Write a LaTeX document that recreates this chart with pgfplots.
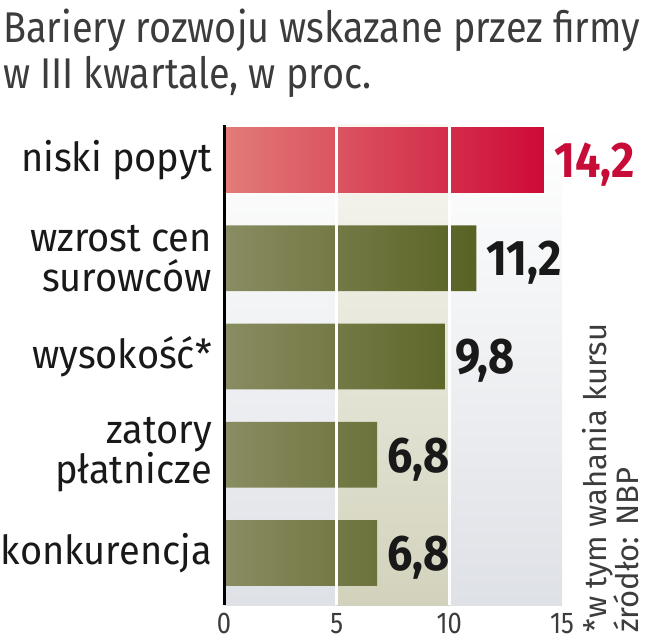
\documentclass[border=0pt]{standalone}
\usepackage{pgfplots}
\pgfplotsset{compat=1.18}
\usepackage{fontspec}
\setmainfont{Fira Sans}
\newfontfamily\titlefont{Fira Sans}[FakeStretch=0.88]
\newfontfamily\tickfont{Fira Sans}[FakeStretch=0.85]
\newfontfamily\numfont{Fira Sans}[FakeStretch=0.9]
\newfontfamily\labfont{Fira Sans}[FakeStretch=0.95]
\definecolor{titlegray}{RGB}{60,60,60}
\definecolor{redL}{RGB}{226,124,120}
\definecolor{redR}{RGB}{206,10,55}
\definecolor{grnL}{RGB}{138,140,98}
\definecolor{grnR}{RGB}{88,98,34}
\definecolor{valred}{RGB}{200,12,56}
\definecolor{bgB}{RGB}{222,225,230}
\definecolor{bandT}{RGB}{248,248,243}
\definecolor{bandB}{RGB}{210,210,188}
\begin{document}
\begin{tikzpicture}[x=1pt,y=1pt]
\useasboundingbox (0,0) rectangle (648,-640);
\node[anchor=base west, inner sep=0pt, text=titlegray, font=\titlefont\fontsize{43}{46}\selectfont] at (3,-42) {Bariery rozwoju wskazane przez firmy};
\node[anchor=base west, inner sep=0pt, text=titlegray, font=\titlefont\fontsize{43}{46}\selectfont] at (3,-88) {w III kwartale, w proc.};
\begin{axis}[
  at={(224pt,-605pt)}, anchor=south west, scale only axis,
  width=338pt, height=480pt,
  xmin=0, xmax=15, ymin=-0.53, ymax=4.356,
  xbar, bar width=0.67, bar shift=0pt,
  clip=false, axis on top,
  axis lines=left, separate axis lines,
  x axis line style={draw=none},
  y axis line style={-, line width=3pt, black},
  xtick={0,5,10,15}, ytick={0,1,2,3,4},
  yticklabels={konkurencja,{zatory\\płatnicze},wysokość*,{wzrost cen\\surowców},niski popyt},
  major tick length=0pt,
  extra x ticks={5,10}, extra x tick labels={},
  extra x tick style={grid=major, major grid style={white, line width=2.5pt}},
  xticklabel style={inner sep=0pt, yshift=-8pt, text=titlegray, font=\tickfont\fontsize{30}{30}\selectfont},
  /pgf/number format/assume math mode=true,
  yticklabel style={align=right, inner sep=0pt, xshift=-12pt, text=black!90, font=\labfont\fontsize{40}{40}\selectfont},
  axis background/.style={top color=white, bottom color=bgB},
  nodes near coords, point meta=explicit symbolic,
  every node near coord/.append style={anchor=base west, inner sep=0pt, xshift=10pt, yshift=-17.5pt, font=\numfont\bfseries\fontsize{50}{50}\selectfont},
]
\path[top color=bandT, bottom color=bandB] (axis cs:5,-0.53) rectangle (axis cs:10,4.356);
\addplot[draw=none, left color=redL, right color=redR, every node near coord/.append style={text=valred}]
  coordinates {(14.2,4) [{14,2}]};
\addplot[draw=none, left color=grnL, right color=grnR, every node near coord/.append style={text=black!90}]
  coordinates {(11.2,3) [{11,2}] (9.8,2) [{9,8}] (6.8,1) [{6,8}] (6.8,0) [{6,8}]};
\end{axis}
\node[rotate=90, anchor=base west, inner sep=0pt, text=titlegray, font=\fontsize{31}{31}\selectfont] at (606,-633) {*w tym wahania kursu};
\node[rotate=90, anchor=base west, inner sep=0pt, text=titlegray, font=\fontsize{31}{31}\selectfont] at (638,-633) {źródło: NBP};
\end{tikzpicture}
\end{document}
